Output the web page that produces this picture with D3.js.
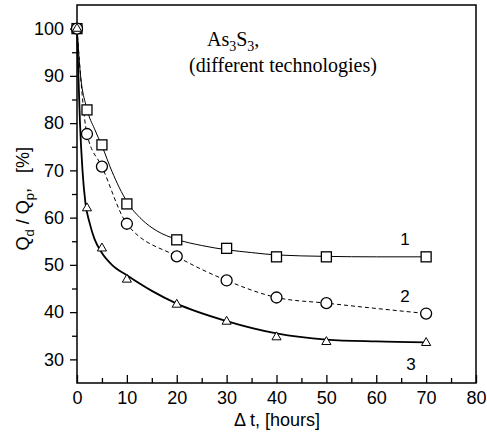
<!DOCTYPE html>
<html>
<head>
<meta charset="utf-8">
<script src="https://cdn.jsdelivr.net/npm/d3@7"></script>
<style>
  body { margin: 0; background: #fff; }
  svg { display: block; }
</style>
</head>
<body>
<script>
const hours = [0, 2, 5, 10, 20, 30, 40, 50, 70];
const series1 = [100, 82.8, 75.4, 62.9, 55.3, 53.5, 51.7, 51.7, 51.7];
const series2 = [100, 77.7, 70.8, 58.7, 51.8, 46.7, 43.1, 41.9, 39.7];
const series3 = [100, 62.0, 53.5, 46.9, 41.6, 38.0, 34.7, 33.7, 33.5];

// fitted curves 1 and 3
const fitHours1 = [0, 0.6, 2, 3.5, 5, 7, 10, 13, 16, 20, 25, 30, 35, 40, 50, 60, 70];
const fit1 = [100, 91.3, 83.0, 78.8, 75.2, 69.8, 63.4, 59.6, 57.2, 55.4, 54.1, 53.2, 52.6, 52.1, 51.8, 51.7, 51.7];
const fitHours3 = [0, 0.25, 0.6, 1.1, 1.7, 2.5, 3.5, 5, 7, 10, 15, 20, 30, 40, 50, 60, 70];
const fit3 = [100, 91, 80, 70, 63, 59, 55.5, 52.5, 50, 47.8, 44.5, 41.8, 38.1, 35.5, 34.2, 33.8, 33.6];

const xTicks = [0, 10, 20, 30, 40, 50, 60, 70, 80];
const yTicks = [30, 40, 50, 60, 70, 80, 90, 100];

const width = 487, height = 437;
const margin = {top: 5, right: 11, bottom: 54, left: 77};

const svg = d3.select('body').append('svg')
  .attr('width', width)
  .attr('height', height);

const x = d3.scaleLinear().domain([0, 80]).range([margin.left, width - margin.right]);
const y = d3.scaleLinear().domain([25, 105]).range([height - margin.bottom, margin.top]);

// frame
svg.append('rect')
  .attr('x', x(0)).attr('y', y(105))
  .attr('width', x(80) - x(0)).attr('height', y(25) - y(105))
  .attr('fill', 'none').attr('stroke', '#000').attr('stroke-width', 1.5);

// x axis, ticks pointing in
svg.append('g')
  .attr('transform', `translate(0,${y(25)})`)
  .call(d3.axisBottom(x).tickValues(xTicks).tickSize(-8).tickPadding(8).tickSizeOuter(0));
svg.append('g')
  .attr('transform', `translate(0,${y(25)})`)
  .call(d3.axisBottom(x).tickValues(d3.range(5, 80, 10)).tickSize(-5).tickFormat('').tickSizeOuter(0));

// y axis, ticks pointing out
svg.append('g')
  .attr('transform', `translate(${x(0)},0)`)
  .call(d3.axisLeft(y).tickValues(yTicks).tickSize(7).tickPadding(6).tickSizeOuter(0));
svg.append('g')
  .attr('transform', `translate(${x(0)},0)`)
  .call(d3.axisLeft(y).tickValues(d3.range(35, 105, 10)).tickSize(5).tickFormat('').tickSizeOuter(0));

svg.selectAll('.domain').remove();
svg.selectAll('.tick line').attr('stroke', '#000').attr('stroke-width', 1.3);
svg.selectAll('.tick text')
  .attr('fill', '#000')
  .style('font', '18px "Liberation Sans", Arial, sans-serif');

// axis titles
svg.append('text')
  .attr('x', 277).attr('y', 426)
  .attr('text-anchor', 'middle')
  .style('font', '18px "Liberation Sans", Arial, sans-serif')
  .text('\u0394 t, [hours]');

const yt = svg.append('text')
  .attr('transform', `translate(29,${y(64)}) rotate(-90)`)
  .attr('text-anchor', 'middle')
  .style('font', '18px "Liberation Sans", Arial, sans-serif');
yt.append('tspan').text('Q');
yt.append('tspan').attr('dy', 5).style('font-size', '13px').text('d');
yt.append('tspan').attr('dy', -5).text(' / Q');
yt.append('tspan').attr('dy', 5).style('font-size', '13px').text('p');
yt.append('tspan').attr('dy', -5).text(',\u00a0\u00a0 [%]');

// annotation
const serif = '20px "Liberation Serif", "Times New Roman", serif';
const t1 = svg.append('text').attr('x', 207).attr('y', 46).style('font', serif);
t1.append('tspan').text('As');
t1.append('tspan').attr('dy', 5).style('font-size', '14px').text('3');
t1.append('tspan').attr('dy', -5).text('S');
t1.append('tspan').attr('dy', 5).style('font-size', '14px').text('3');
t1.append('tspan').attr('dy', -5).text(',');
svg.append('text').attr('x', 189).attr('y', 72).style('font', serif)
  .text('(different technologies)');

// curves
const line = d3.line()
  .x(d => x(d[0]))
  .y(d => y(d[1]))
  .curve(d3.curveMonotoneX);

const pts = (xs, s) => xs.map((h, i) => [h, s[i]]);

svg.append('path').datum(pts(fitHours1, fit1))
  .attr('d', line).attr('fill', 'none').attr('stroke', '#000').attr('stroke-width', 1);
svg.append('path').datum(pts(hours, series2))
  .attr('d', line).attr('fill', 'none').attr('stroke', '#000').attr('stroke-width', 1)
  .attr('stroke-dasharray', '4,3');
svg.append('path').datum(pts(fitHours3, fit3))
  .attr('d', line).attr('fill', 'none').attr('stroke', '#000').attr('stroke-width', 1.8);

// markers
svg.append('g').selectAll('rect').data(pts(hours, series1)).join('rect')
  .attr('x', d => x(d[0]) - 5).attr('y', d => y(d[1]) - 5)
  .attr('width', 10).attr('height', 10)
  .attr('fill', '#fff').attr('stroke', '#000').attr('stroke-width', 1.3);

svg.append('g').selectAll('circle').data(pts(hours, series2)).join('circle')
  .attr('cx', d => x(d[0])).attr('cy', d => y(d[1])).attr('r', 5.5)
  .attr('fill', '#fff').attr('stroke', '#000').attr('stroke-width', 1.3);

const tri = d3.symbol().type(d3.symbolTriangle).size(36);
svg.append('g').selectAll('path').data(pts(hours, series3)).join('path')
  .attr('transform', d => `translate(${x(d[0])},${y(d[1])})`)
  .attr('d', tri)
  .attr('fill', '#fff').attr('stroke', '#000').attr('stroke-width', 1);

// curve numbers
const numFont = '17px "Liberation Sans", Arial, sans-serif';
[['1', 405, 245], ['2', 405, 302], ['3', 411, 370]].forEach(([t, px, py]) => {
  svg.append('text').attr('x', px).attr('y', py).attr('text-anchor', 'middle')
    .style('font', numFont).text(t);
});
</script>
</body>
</html>
